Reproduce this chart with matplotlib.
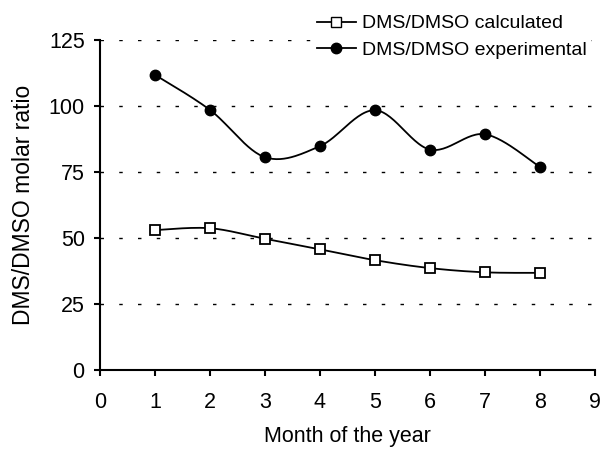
import numpy as np
import matplotlib
matplotlib.use("Agg")
import matplotlib.pyplot as plt
from matplotlib.lines import Line2D

plt.rcParams['font.family'] = ['Liberation Sans', 'DejaVu Sans']

months = [1, 2, 3, 4, 5, 6, 7, 8]
calculated = [53.0, 53.7, 49.7, 45.7, 41.6, 38.6, 37.0, 36.8]
experimental = [111.8, 98.5, 80.6, 84.8, 98.4, 83.5, 89.3, 76.9]


def smooth(x, y, n=30):
    # excel-style smoothed line (catmull-rom / bezier)
    p = np.column_stack([x, y]).astype(float)
    pts = np.vstack([p[0], p, p[-1]])
    out = []
    t = np.linspace(0, 1, n)[:, None]
    for i in range(1, len(pts) - 2):
        p0, p1, p2, p3 = pts[i - 1], pts[i], pts[i + 1], pts[i + 2]
        c1 = p1 + (p2 - p0) / 6
        c2 = p2 - (p3 - p1) / 6
        seg = ((1 - t) ** 3) * p1 + 3 * ((1 - t) ** 2) * t * c1 + 3 * (1 - t) * t ** 2 * c2 + t ** 3 * p2
        out.append(seg if i == 1 else seg[1:])
    s = np.vstack(out)
    return s[:, 0], s[:, 1]


fig = plt.figure(figsize=(6.03, 4.49), dpi=100)
ax = fig.add_axes([100 / 603, 1 - 370 / 449, 495 / 603, 330 / 449])

for yv in [25, 50, 75, 100, 125]:
    ax.axhline(yv, color="black", lw=1, dashes=(2.5, 11), zorder=0)

sx, sy = smooth(months, calculated)
ax.plot(sx, sy, color="black", lw=1.3)
ax.plot(months, calculated, ls="none", marker="s", ms=7.5, mfc="white", mec="black", mew=1.3)

ex, ey = smooth(months, experimental)
ax.plot(ex, ey, color="black", lw=1.3)
ax.plot(months, experimental, ls="none", marker="o", ms=7.5, mfc="black", mec="black")

ax.set_xlim(0, 9)
ax.set_ylim(0, 125)
ax.set_xticks(range(0, 10))
ax.set_yticks([0, 25, 50, 75, 100, 125])
ax.spines["top"].set_visible(False)
ax.spines["right"].set_visible(False)
ax.spines["left"].set_linewidth(1.5)
ax.spines["bottom"].set_linewidth(1.5)
ax.tick_params(axis="both", direction="out", length=4, width=1.5, labelsize=15.5)
ax.tick_params(axis="x", pad=12)
ax.tick_params(axis="y", pad=7)
ax.set_xlabel("Month of the year", fontsize=15.5, labelpad=9)
ax.set_ylabel("DMS/DMSO molar ratio", fontsize=16.5, labelpad=10)

handles = [
    Line2D([], [], color="black", lw=1.3, marker="s", ms=7.5, mfc="white", mec="black"),
    Line2D([], [], color="black", lw=1.3, marker="o", ms=7.5, mfc="black"),
]
leg = fig.legend(handles, ["DMS/DMSO calculated", "DMS/DMSO experimental"],
                 loc="upper left", bbox_to_anchor=(313 / 603, 1 - 11 / 449),
                 frameon=True, fontsize=14, handlelength=2.0, handletextpad=0.3,
                 labelspacing=0.45, borderpad=0.2, borderaxespad=0)
leg.get_frame().set_edgecolor("white")
leg.get_frame().set_facecolor("white")
leg.get_frame().set_alpha(1)

fig.savefig("out.png", dpi=100)
